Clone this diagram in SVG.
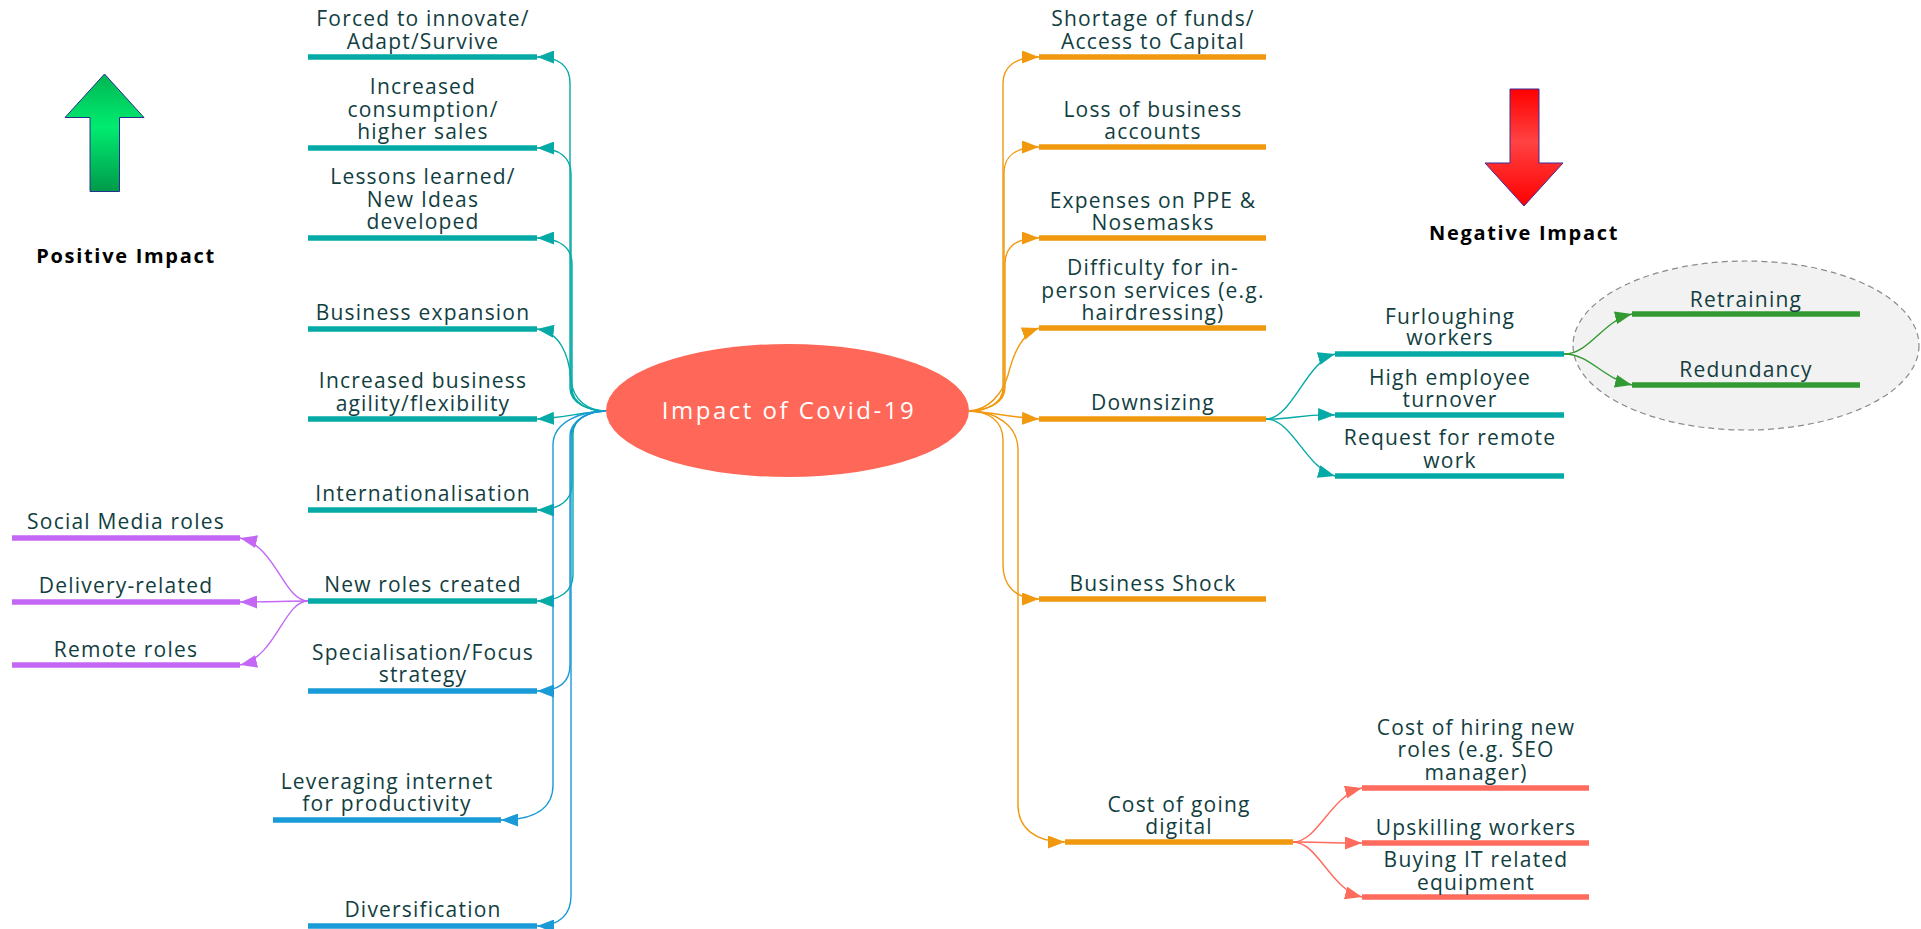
<svg xmlns="http://www.w3.org/2000/svg" width="1921" height="929" viewBox="0 0 1921 929">
  <style>
    .lbl { font-family: "Open Sans", "Noto Sans", "DejaVu Sans", sans-serif; font-size: 21px; fill: #123e3f; text-anchor: middle; letter-spacing: 1.2px; }
    .head { font-family: "Open Sans", "Noto Sans", "DejaVu Sans", sans-serif; font-size: 20px; font-weight: bold; fill: #000; text-anchor: middle; letter-spacing: 1.7px; }
    .root { font-family: "Open Sans", "Noto Sans", "DejaVu Sans", sans-serif; font-size: 24px; fill: #fff; text-anchor: middle; letter-spacing: 2.5px; }
    .bar { stroke-width: 5.5; fill: none; }
    .teal { stroke: #05aaa6; }
    .blue { stroke: #1a9ad6; }
    .orange { stroke: #f0990f; }
    .purple { stroke: #c467f5; }
    .green { stroke: #339a33; }
    .salmon { stroke: #ff6b5c; }
    .conn path { fill: none; stroke-width: 1.4; }
  </style>
  <defs>
    <marker id="ah-teal" markerUnits="userSpaceOnUse" viewBox="0 0 17 13" markerWidth="17" markerHeight="13" refX="17" refY="6.5" orient="auto"><path d="M0,0 L17,6.5 L0,13 z" fill="#05aaa6"/></marker>
    <marker id="ah-blue" markerUnits="userSpaceOnUse" viewBox="0 0 17 13" markerWidth="17" markerHeight="13" refX="17" refY="6.5" orient="auto"><path d="M0,0 L17,6.5 L0,13 z" fill="#1a9ad6"/></marker>
    <marker id="ah-orange" markerUnits="userSpaceOnUse" viewBox="0 0 17 13" markerWidth="17" markerHeight="13" refX="17" refY="6.5" orient="auto"><path d="M0,0 L17,6.5 L0,13 z" fill="#f0990f"/></marker>
    <marker id="ah-purple" markerUnits="userSpaceOnUse" viewBox="0 0 17 13" markerWidth="17" markerHeight="13" refX="17" refY="6.5" orient="auto"><path d="M0,0 L17,6.5 L0,13 z" fill="#c467f5"/></marker>
    <marker id="ah-green" markerUnits="userSpaceOnUse" viewBox="0 0 17 13" markerWidth="17" markerHeight="13" refX="17" refY="6.5" orient="auto"><path d="M0,0 L17,6.5 L0,13 z" fill="#339a33"/></marker>
    <marker id="ah-salmon" markerUnits="userSpaceOnUse" viewBox="0 0 17 13" markerWidth="17" markerHeight="13" refX="17" refY="6.5" orient="auto"><path d="M0,0 L17,6.5 L0,13 z" fill="#ff6b5c"/></marker>
    <linearGradient id="gUp" x1="0" y1="0" x2="0" y2="1">
      <stop offset="0" stop-color="#00b552"/>
      <stop offset="0.45" stop-color="#00ec70"/>
      <stop offset="1" stop-color="#009a4a"/>
    </linearGradient>
    <linearGradient id="gDown" x1="0" y1="0" x2="0" y2="1">
      <stop offset="0" stop-color="#ff0000"/>
      <stop offset="0.45" stop-color="#ff4242"/>
      <stop offset="1" stop-color="#ff0000"/>
    </linearGradient>
  </defs>

  <rect width="1921" height="929" fill="#ffffff"/>

  <!-- legend arrows -->
  <g id="legend-positive">
    <polygon points="104.5,74 144,117.5 119.5,117.5 119.5,191.5 90,191.5 90,117.5 65,117.5" fill="url(#gUp)" stroke="#25308f" stroke-width="1"/>
    <text class="head" x="126" y="263">Positive Impact</text>
  </g>
  <g id="legend-negative">
    <polygon points="1510,89 1539,89 1539,163 1563,163 1524,206 1485,163 1510,163" fill="url(#gDown)" stroke="#3a2a9a" stroke-width="1"/>
    <text class="head" x="1524" y="240">Negative Impact</text>
  </g>

  <!-- boundary around the furlough outcomes -->
  <g id="boundary-furlough">
    <ellipse cx="1746" cy="345.5" rx="173" ry="84.5" fill="#f2f2f2" stroke="#8a8a8a" stroke-width="1.2" stroke-dasharray="6 4"/>
  </g>

  <!-- connectors -->
  <g id="connectors" class="conn">
    <!-- root to positive branches -->
    <path class="teal" marker-end="url(#ah-teal)" d="M606,411 C590,411 570,404 570,388 L570,83 C570,67 560,57 537,57"/>
    <path class="teal" marker-end="url(#ah-teal)" d="M606,411 C590,411 571,404 571,388 L571,174 C571,158 560,148 537,148"/>
    <path class="teal" marker-end="url(#ah-teal)" d="M606,411 C590,411 572,404 572,388 L572,264 C572,248 560,238 537,238"/>
    <path class="teal" marker-end="url(#ah-teal)" d="M606,411 C588,411 573,400 571,380 C569,355 560,332 537,329"/>
    <path class="teal" marker-end="url(#ah-teal)" d="M606,411 C585,412 560,418 537,419"/>
    <path class="teal" marker-end="url(#ah-teal)" d="M606,411 C590,411 572,418 572,434 L572,484 C572,500 560,510 537,510"/>
    <path class="teal" marker-end="url(#ah-teal)" d="M606,411 C590,411 573,418 573,434 L573,575 C573,591 560,601 537,601"/>
    <path class="blue" marker-end="url(#ah-blue)" d="M606,411 C590,411 570,420 570,436 L570,665 C570,681 560,691 537,691"/>
    <path class="blue" marker-end="url(#ah-blue)" d="M606,411 C585,411 553,420 553,445 L553,785 C553,808 535,820 501,820"/>
    <path class="blue" marker-end="url(#ah-blue)" d="M606,411 C590,411 571,420 571,436 L571,896 C571,914 560,926 537,926"/>
    <!-- new roles to role types -->
    <path class="purple" marker-end="url(#ah-purple)" d="M308,601 C284,601 276,546 240,538"/>
    <path class="purple" marker-end="url(#ah-purple)" d="M308,601 C285,601 272,602 240,602"/>
    <path class="purple" marker-end="url(#ah-purple)" d="M308,601 C284,601 276,657 240,665"/>
    <!-- root to negative branches -->
    <path class="orange" marker-end="url(#ah-orange)" d="M969,411 C985,411 1003,404 1003,388 L1003,83 C1003,67 1015,57 1039,57"/>
    <path class="orange" marker-end="url(#ah-orange)" d="M969,411 C985,411 1004,404 1004,388 L1004,173 C1004,157 1015,147 1039,147"/>
    <path class="orange" marker-end="url(#ah-orange)" d="M969,411 C985,411 1005,404 1005,388 L1005,264 C1005,248 1015,238 1039,238"/>
    <path class="orange" marker-end="url(#ah-orange)" d="M969,411 C988,410 1002,395 1008,375 C1014,352 1022,334 1039,328"/>
    <path class="orange" marker-end="url(#ah-orange)" d="M969,411 C990,412 1015,418 1039,419"/>
    <path class="orange" marker-end="url(#ah-orange)" d="M969,411 C987,411 1003,420 1003,440 L1003,565 C1003,585 1015,599 1039,599"/>
    <path class="orange" marker-end="url(#ah-orange)" d="M969,411 C995,411 1018,425 1018,450 L1018,805 C1018,828 1035,842 1065,842"/>
    <!-- downsizing to staffing effects -->
    <path class="teal" marker-end="url(#ah-teal)" d="M1266,419 C1292,419 1306,362 1335,354"/>
    <path class="teal" marker-end="url(#ah-teal)" d="M1266,419 C1290,420 1300,414 1335,415"/>
    <path class="teal" marker-end="url(#ah-teal)" d="M1266,419 C1292,419 1306,468 1335,476"/>
    <!-- furloughing to outcomes -->
    <path class="green" marker-end="url(#ah-green)" d="M1564,354 C1590,354 1602,321 1632,314"/>
    <path class="green" marker-end="url(#ah-green)" d="M1564,354 C1590,354 1602,378 1632,385"/>
    <!-- cost of going digital to cost items -->
    <path class="salmon" marker-end="url(#ah-salmon)" d="M1293,842 C1318,842 1330,796 1362,788"/>
    <path class="salmon" marker-end="url(#ah-salmon)" d="M1293,842 C1318,842 1330,843 1362,843"/>
    <path class="salmon" marker-end="url(#ah-salmon)" d="M1293,842 C1318,842 1330,889 1362,897"/>
  </g>

  <!-- central topic -->
  <g id="root">
    <ellipse cx="787.5" cy="410.5" rx="181.5" ry="66.5" fill="#ff6858"/>
    <text class="root" x="789" y="419">Impact of Covid-19</text>
  </g>

  <!-- positive branches -->
  <g id="pos-innovate">
    <line class="bar teal" x1="308" y1="57" x2="537" y2="57"/>
    <text class="lbl" x="423" y="26"><tspan x="423">Forced to innovate/</tspan><tspan x="423" y="48.5">Adapt/Survive</tspan></text>
  </g>
  <g id="pos-consumption">
    <line class="bar teal" x1="308" y1="148" x2="537" y2="148"/>
    <text class="lbl" x="423" y="94"><tspan x="423">Increased</tspan><tspan x="423" y="116.5">consumption/</tspan><tspan x="423" y="139">higher sales</tspan></text>
  </g>
  <g id="pos-lessons">
    <line class="bar teal" x1="308" y1="238" x2="537" y2="238"/>
    <text class="lbl" x="423" y="184"><tspan x="423">Lessons learned/</tspan><tspan x="423" y="206.5">New Ideas</tspan><tspan x="423" y="229">developed</tspan></text>
  </g>
  <g id="pos-expansion">
    <line class="bar teal" x1="308" y1="329" x2="537" y2="329"/>
    <text class="lbl" x="423" y="320">Business expansion</text>
  </g>
  <g id="pos-agility">
    <line class="bar teal" x1="308" y1="419" x2="537" y2="419"/>
    <text class="lbl" x="423" y="388"><tspan x="423">Increased business</tspan><tspan x="423" y="410.5">agility/flexibility</tspan></text>
  </g>
  <g id="pos-international">
    <line class="bar teal" x1="308" y1="510" x2="537" y2="510"/>
    <text class="lbl" x="423" y="501">Internationalisation</text>
  </g>
  <g id="pos-newroles">
    <line class="bar teal" x1="308" y1="601" x2="537" y2="601"/>
    <text class="lbl" x="423" y="592">New roles created</text>
  </g>
  <g id="pos-specialisation">
    <line class="bar blue" x1="308" y1="691" x2="537" y2="691"/>
    <text class="lbl" x="423" y="660"><tspan x="423">Specialisation/Focus</tspan><tspan x="423" y="682">strategy</tspan></text>
  </g>
  <g id="pos-internet">
    <line class="bar blue" x1="273" y1="820" x2="501" y2="820"/>
    <text class="lbl" x="387" y="789"><tspan x="387">Leveraging internet</tspan><tspan x="387" y="811">for productivity</tspan></text>
  </g>
  <g id="pos-diversification">
    <line class="bar blue" x1="308" y1="926" x2="537" y2="926"/>
    <text class="lbl" x="423" y="917">Diversification</text>
  </g>

  <!-- new role types -->
  <g id="role-social">
    <line class="bar purple" x1="12" y1="538" x2="240" y2="538"/>
    <text class="lbl" x="126" y="529">Social Media roles</text>
  </g>
  <g id="role-delivery">
    <line class="bar purple" x1="12" y1="602" x2="240" y2="602"/>
    <text class="lbl" x="126" y="593">Delivery-related</text>
  </g>
  <g id="role-remote">
    <line class="bar purple" x1="12" y1="665" x2="240" y2="665"/>
    <text class="lbl" x="126" y="656.5">Remote roles</text>
  </g>

  <!-- negative branches -->
  <g id="neg-funds">
    <line class="bar orange" x1="1039" y1="57" x2="1266" y2="57"/>
    <text class="lbl" x="1153" y="26"><tspan x="1153">Shortage of funds/</tspan><tspan x="1153" y="48.5">Access to Capital</tspan></text>
  </g>
  <g id="neg-accounts">
    <line class="bar orange" x1="1039" y1="147" x2="1266" y2="147"/>
    <text class="lbl" x="1153" y="116.5"><tspan x="1153">Loss of business</tspan><tspan x="1153" y="138.5">accounts</tspan></text>
  </g>
  <g id="neg-ppe">
    <line class="bar orange" x1="1039" y1="238" x2="1266" y2="238"/>
    <text class="lbl" x="1153" y="207.5"><tspan x="1153">Expenses on PPE &amp;</tspan><tspan x="1153" y="229.5">Nosemasks</tspan></text>
  </g>
  <g id="neg-inperson">
    <line class="bar orange" x1="1039" y1="328" x2="1266" y2="328"/>
    <text class="lbl" x="1153" y="275"><tspan x="1153">Difficulty for in-</tspan><tspan x="1153" y="297.5">person services (e.g.</tspan><tspan x="1153" y="319.5">hairdressing)</tspan></text>
  </g>
  <g id="neg-downsizing">
    <line class="bar orange" x1="1039" y1="419" x2="1266" y2="419"/>
    <text class="lbl" x="1153" y="410">Downsizing</text>
  </g>
  <g id="neg-shock">
    <line class="bar orange" x1="1039" y1="599" x2="1266" y2="599"/>
    <text class="lbl" x="1153" y="591">Business Shock</text>
  </g>
  <g id="neg-digital">
    <line class="bar orange" x1="1065" y1="842" x2="1293" y2="842"/>
    <text class="lbl" x="1179" y="812"><tspan x="1179">Cost of going</tspan><tspan x="1179" y="833.5">digital</tspan></text>
  </g>

  <!-- downsizing effects -->
  <g id="staff-furlough">
    <line class="bar teal" x1="1335" y1="354" x2="1564" y2="354"/>
    <text class="lbl" x="1450" y="323.5"><tspan x="1450">Furloughing</tspan><tspan x="1450" y="345">workers</tspan></text>
  </g>
  <g id="staff-turnover">
    <line class="bar teal" x1="1335" y1="415" x2="1564" y2="415"/>
    <text class="lbl" x="1450" y="385"><tspan x="1450">High employee</tspan><tspan x="1450" y="407">turnover</tspan></text>
  </g>
  <g id="staff-remote">
    <line class="bar teal" x1="1335" y1="476" x2="1564" y2="476"/>
    <text class="lbl" x="1450" y="445"><tspan x="1450">Request for remote</tspan><tspan x="1450" y="467.5">work</tspan></text>
  </g>

  <!-- furlough outcomes -->
  <g id="furlough-retraining">
    <line class="bar green" x1="1632" y1="314" x2="1860" y2="314"/>
    <text class="lbl" x="1746" y="306.5">Retraining</text>
  </g>
  <g id="furlough-redundancy">
    <line class="bar green" x1="1632" y1="385" x2="1860" y2="385"/>
    <text class="lbl" x="1746" y="376.5">Redundancy</text>
  </g>

  <!-- digital cost items -->
  <g id="digital-hiring">
    <line class="bar salmon" x1="1362" y1="788" x2="1589" y2="788"/>
    <text class="lbl" x="1476" y="735"><tspan x="1476">Cost of hiring new</tspan><tspan x="1476" y="757">roles (e.g. SEO</tspan><tspan x="1476" y="779.5">manager)</tspan></text>
  </g>
  <g id="digital-upskilling">
    <line class="bar salmon" x1="1362" y1="843" x2="1589" y2="843"/>
    <text class="lbl" x="1476" y="834.5">Upskilling workers</text>
  </g>
  <g id="digital-equipment">
    <line class="bar salmon" x1="1362" y1="897" x2="1589" y2="897"/>
    <text class="lbl" x="1476" y="867"><tspan x="1476">Buying IT related</tspan><tspan x="1476" y="889.5">equipment</tspan></text>
  </g>
</svg>
